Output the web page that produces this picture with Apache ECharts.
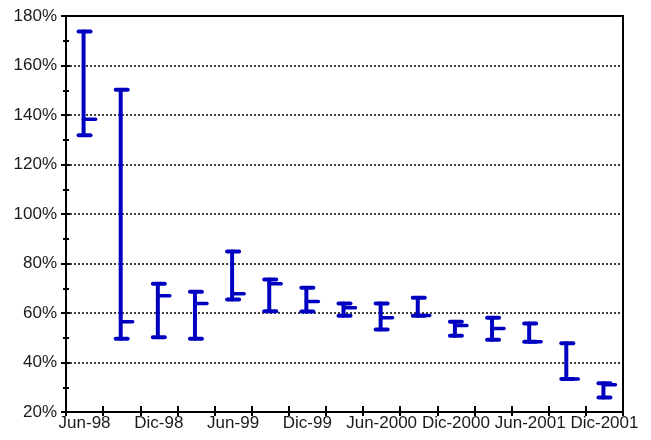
<!DOCTYPE html>
<html>
<head>
<meta charset="utf-8">
<script src="https://cdn.jsdelivr.net/npm/echarts@6/dist/echarts.min.js"></script>
<style>html,body{margin:0;padding:0;background:#fff;}#c{width:651px;height:440px;}</style>
</head>
<body>
<div id="c"></div>
<script>
const categories = ['Jun-98','Sep-98','Dic-98','Mar-99','Jun-99','Sep-99','Dic-99','Mar-2000','Jun-2000','Sep-2000','Dic-2000','Mar-2001','Jun-2001','Sep-2001','Dic-2001'];
const highValues  = [173.7, 150.2, 71.8, 68.6, 84.8, 73.5, 70.2, 63.8, 63.8, 66.2, 56.5, 58.1, 55.8, 47.8, 31.6];
const lowValues   = [131.8, 49.6, 50.2, 49.6, 65.5, 60.7, 60.6, 58.9, 53.3, 58.9, 50.8, 49.2, 48.4, 33.3, 25.9];
const closeValues = [138.3, 56.5, 67.0, 63.8, 67.8, 71.8, 64.6, 62.1, 58.1, 59.0, 55.0, 53.7, 48.4, 33.3, 31.0];
const yTicks = [20, 40, 60, 80, 100, 120, 140, 160, 180];

const seriesData = categories.map((c, i) => [i, highValues[i], lowValues[i], closeValues[i]]);
const FONT = 'Liberation Sans';
const BLUE = '#0000c0';

const chart = echarts.init(document.getElementById('c'), null, {renderer: 'canvas'});
const yCommon = {
  type: 'value', min: yTicks[0], max: yTicks[yTicks.length - 1], interval: 20, position: 'left'
};
chart.setOption({
  animation: false,
  grid: {left: 66, right: 28, top: 16, bottom: 28, show: true, borderColor: '#000', borderWidth: 2, backgroundColor: 'transparent'},
  xAxis: [
    {
      type: 'category', data: categories, boundaryGap: true, position: 'bottom',
      axisLine: {show: true, lineStyle: {color: '#000', width: 2}},
      axisTick: {show: true, interval: 0, length: 4, lineStyle: {color: '#000', width: 2}},
      axisLabel: {interval: 1, color: '#1a1a1a', fontFamily: FONT, fontSize: 17, margin: 3},
      splitLine: {show: false}
    },
    {
      type: 'category', data: categories, boundaryGap: true, position: 'bottom',
      axisLine: {show: false},
      axisTick: {show: true, inside: true, interval: 0, length: 6, lineStyle: {color: '#000', width: 2}},
      axisLabel: {show: false},
      splitLine: {show: false}
    }
  ],
  yAxis: [
    Object.assign({}, yCommon, {
      axisLine: {show: true, lineStyle: {color: '#000', width: 2}},
      axisTick: {show: true, length: 5, lineStyle: {color: '#000', width: 2}},
      minorTick: {show: true, splitNumber: 2, length: 3, lineStyle: {color: '#000', width: 2}},
      axisLabel: {color: '#1a1a1a', fontFamily: FONT, fontSize: 17, margin: 9, formatter: '{value}%'},
      splitLine: {show: true, lineStyle: {color: '#000', width: 1.5, type: [2, 2]}}
    }),
    Object.assign({}, yCommon, {
      axisLine: {show: false},
      axisTick: {show: true, inside: true, length: 4, lineStyle: {color: '#000', width: 2}},
      minorTick: {show: true, splitNumber: 2, length: 3, lineStyle: {color: '#000', width: 2}},
      axisLabel: {show: false},
      splitLine: {show: false}
    })
  ],
  series: [{
    type: 'custom',
    xAxisIndex: 0, yAxisIndex: 0,
    data: seriesData,
    renderItem: function (params, api) {
      const x = api.value(0);
      const hi = api.coord([x, api.value(1)]);
      const lo = api.coord([x, api.value(2)]);
      const cl = api.coord([x, api.value(3)]);
      const cx = hi[0] - 1;
      const st = {stroke: BLUE, lineWidth: 4, lineCap: 'round'};
      const st2 = {stroke: BLUE, lineWidth: 3.5, lineCap: 'round'};
      return {type: 'group', children: [
        {type: 'line', shape: {x1: cx, y1: hi[1], x2: cx, y2: lo[1]}, style: st},
        {type: 'line', shape: {x1: cx - 5, y1: hi[1], x2: cx + 7, y2: hi[1]}, style: st},
        {type: 'line', shape: {x1: cx - 5, y1: lo[1], x2: cx + 7, y2: lo[1]}, style: st},
        {type: 'line', shape: {x1: cx, y1: cl[1], x2: cx + 12, y2: cl[1]}, style: st2}
      ]};
    }
  }]
});
</script>
</body>
</html>
